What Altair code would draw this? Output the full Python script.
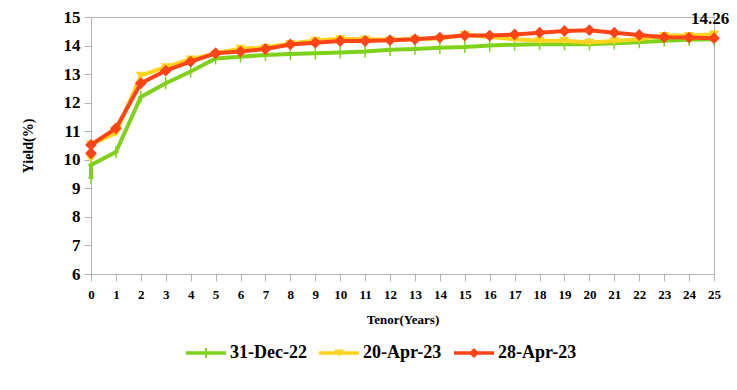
import altair as alt
import pandas as pd

tenor = [0, 0, 1, 2, 3, 4, 5, 6, 7, 8, 9, 10, 11, 12, 13, 14, 15, 16, 17, 18, 19, 20, 21, 22, 23, 24, 25]
dec22 = [9.36, 9.82, 10.27, 12.2, 12.68, 13.09, 13.55, 13.61, 13.67, 13.7, 13.73, 13.76, 13.79, 13.85,
         13.88, 13.92, 13.95, 14.0, 14.03, 14.05, 14.05, 14.05, 14.08, 14.12, 14.17, 14.2, 14.22]
apr20 = [10.03, 10.55, 10.93, 12.95, 13.25, 13.52, 13.72, 13.9, 13.93, 14.07, 14.18, 14.24, 14.22, 14.2,
         14.22, 14.25, 14.38, 14.3, 14.22, 14.17, 14.17, 14.11, 14.16, 14.22, 14.35, 14.35, 14.4]
apr28 = [10.23, 10.52, 11.1, 12.68, 13.12, 13.44, 13.73, 13.79, 13.88, 14.04, 14.1, 14.16, 14.16, 14.19,
         14.22, 14.28, 14.35, 14.35, 14.39, 14.45, 14.51, 14.54, 14.45, 14.37, 14.29, 14.28, 14.26]
series = ["31-Dec-22", "20-Apr-23", "28-Apr-23"]
colors = ["#7FD11B", "#FFD320", "#FF4517"]
x_ticks = list(range(26))
y_ticks = list(range(6, 16))

rows = []
for s, vals in zip(series, [dec22, apr20, apr28]):
    for i, (t, v) in enumerate(zip(tenor, vals)):
        rows.append({"series": s, "tenor": t, "yield": v, "idx": i})
df = pd.DataFrame(rows)

FONT = "Liberation Serif"

marker_paths = {
    "31-Dec-22": "M-0.12,-1H0.12V-0.12H0.45V0.12H0.12V1H-0.12V0.12H-0.45V-0.12H-0.12Z",
    "20-Apr-23": "M-1,-0.7L1,-0.7L0,0.7Z",
    "28-Apr-23": "M0,-1L1,0L0,1L-1,0Z",
}
marker_sizes = {"31-Dec-22": 150, "20-Apr-23": 110, "28-Apr-23": 140}

legend_paths = [
    "M-1,-0.09H1V0.09H-1Z M-0.05,-0.25H0.05V0.25H-0.05Z",
    "M-1,-0.09H1V0.09H-1Z M-0.25,-0.18L0.25,-0.18L0,0.2Z",
    "M-1,-0.09H1V0.09H-1Z M0,-0.25L0.25,0L0,0.25L-0.25,0Z",
]

x_enc = alt.X("tenor:Q", scale=alt.Scale(domain=[0, 25], nice=False),
              axis=alt.Axis(values=x_ticks, title="Tenor(Years)"))
y_enc = alt.Y("yield:Q", scale=alt.Scale(domain=[6, 15], nice=False, zero=False),
              axis=alt.Axis(values=y_ticks, title="Yield(%)", titleX=-56))

layers = []
for s, c in zip(series, colors):
    sub = alt.Chart(df).transform_filter(alt.datum.series == s)
    layers.append(sub.mark_line(strokeWidth=4, color=c).encode(
        x=x_enc, y=y_enc, order="idx:Q"))
    layers.append(sub.mark_point(filled=True, opacity=1, shape=marker_paths[s], color=c,
                                 size=marker_sizes[s]).encode(x=x_enc, y=y_enc))

label_df = df[(df.series == "28-Apr-23") & (df.tenor == 25)]
label = alt.Chart(label_df).mark_text(font=FONT, fontWeight="bold", fontSize=17, dy=-19, dx=-4,
                                       color="#000000").encode(
    x=x_enc, y=y_enc, text=alt.Text("yield:Q", format=".2f"))

legend_layer = alt.Chart(df).mark_point(filled=True, opacity=0, size=0).encode(
    x=x_enc, y=y_enc,
    color=alt.Color("series:N", scale=alt.Scale(domain=series, range=colors), title=None),
    shape=alt.Shape("series:N", scale=alt.Scale(domain=series, range=legend_paths), title=None),
)

chart = alt.layer(*layers, label, legend_layer).properties(
    width=623, height=257,
    padding={"left": 83, "top": 9, "right": 15, "bottom": 100},
    autosize=alt.AutoSizeParams(type="none"),
).configure_view(stroke="#B3B3B3", strokeWidth=1).configure_axis(
    grid=False, domainColor="#B3B3B3", tickColor="#B3B3B3", tickSize=7,
    labelFont=FONT, labelFontWeight="bold", labelColor="#000", labelOverlap=False,
    labelFlush=False,
    titleFont=FONT, titleFontWeight="bold", titleColor="#000",
).configure_axisX(labelFontSize=13, labelPadding=7, titleFontSize=13, titlePadding=12,
                  labelAngle=0).configure_axisY(labelFontSize=17, labelPadding=4, titleFontSize=14
).configure_legend(orient="none", direction="horizontal", legendX=95, legendY=316,
                   symbolSize=1600, labelFontSize=18, labelFont=FONT, labelFontWeight="bold",
                   labelColor="#000", columnPadding=12, labelOffset=4, symbolOpacity=1,
                   symbolStrokeWidth=0)

chart.save("out.html", embed_options={"renderer": "svg", "actions": False})
